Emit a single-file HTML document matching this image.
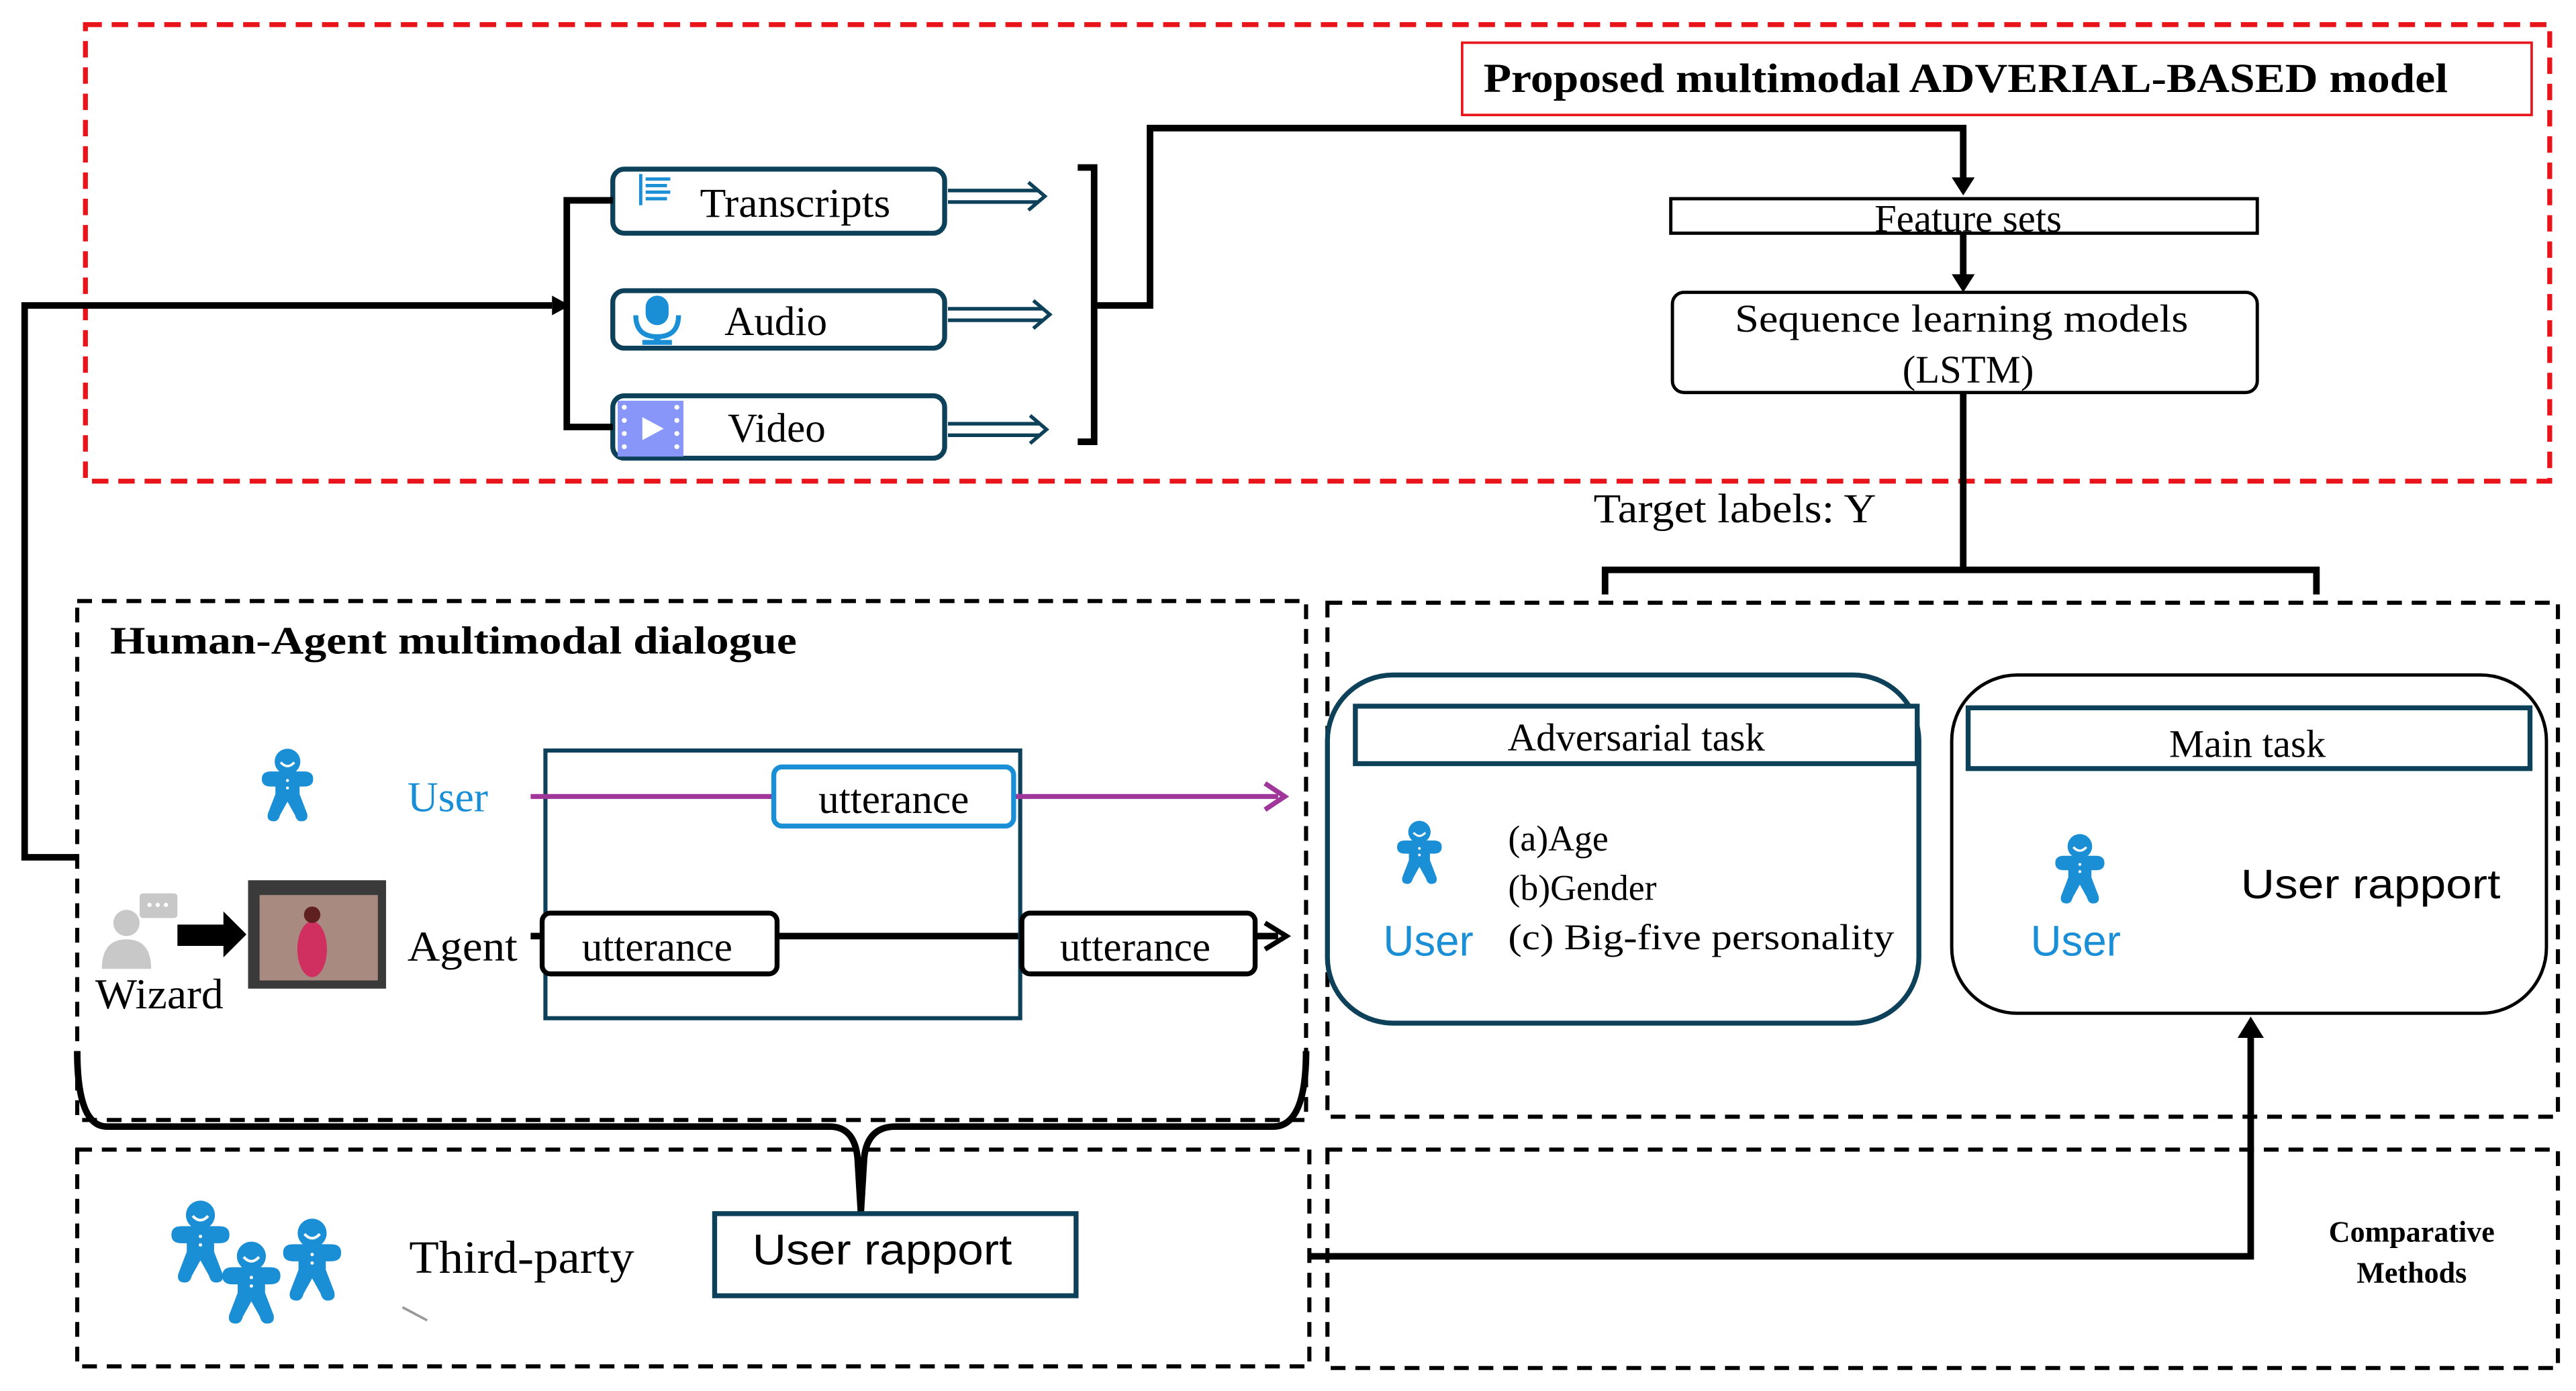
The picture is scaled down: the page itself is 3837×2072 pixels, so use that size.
<!DOCTYPE html>
<html><head><meta charset="utf-8"><style>
html,body{margin:0;padding:0;background:#fff}
svg{display:block}
text{font-family:"Liberation Serif",serif}
.s{font-family:"Liberation Sans","DejaVu Sans",sans-serif}
</style></head><body>
<svg width="3837" height="2072" viewBox="0 0 1568 847" preserveAspectRatio="none" xmlns="http://www.w3.org/2000/svg">
<defs>
<symbol id="p" viewBox="0 0 40 50">
<circle cx="20" cy="9.5" r="8.5" fill="#1a8fd6"/>
<path d="M3 21 Q3 16 9 16 L31 16 Q37 16 37 21 Q37 26 31 26 L28 26 L28 31 L33 44 Q34 49 29 49 Q26 49 25 45 L20 36 L15 45 Q14 49 11 49 Q6 49 7 44 L12 31 L12 26 L9 26 Q3 26 3 21Z" fill="#1a8fd6"/>
<path d="M15.5 10 Q20 15 24.5 10" stroke="#fff" stroke-width="1.6" fill="none"/>
<circle cx="20" cy="22" r="1" fill="#fff"/><circle cx="20" cy="27" r="1" fill="#fff"/>
</symbol>
</defs>
<rect x="52" y="15" width="1500" height="278" fill="none" stroke="#e8141a" stroke-width="3" stroke-dasharray="10,6"/>
<rect x="890" y="26" width="651" height="44" fill="none" stroke="#e8141a" stroke-width="1.5"/>
<text x="903" y="56" font-size="25" font-weight="bold" textLength="587" lengthAdjust="spacingAndGlyphs">Proposed multimodal ADVERIAL-BASED model</text>
<g fill="#fff" stroke="#0d4159" stroke-width="3">
<rect x="373" y="103" width="202" height="39" rx="7"/>
<rect x="373" y="177" width="202" height="35" rx="7"/>
<rect x="373" y="241" width="202" height="38" rx="7"/>
</g>
<g stroke="#1a8fd6" stroke-width="2"><line x1="390" y1="106" x2="390" y2="125"/><line x1="393" y1="109" x2="408" y2="109"/><line x1="393" y1="113" x2="406" y2="113"/><line x1="393" y1="117" x2="408" y2="117"/><line x1="393" y1="121" x2="406" y2="121"/></g>
<text x="426" y="132" font-size="25" textLength="116" lengthAdjust="spacingAndGlyphs">Transcripts</text>
<rect x="393" y="180" width="14" height="18" rx="7" fill="#1a8fd6"/>
<path d="M387 192 Q387 205 400 205 Q413 205 413 192" stroke="#1a8fd6" stroke-width="3" fill="none"/>
<rect x="398" y="204" width="4" height="5" fill="#1a8fd6"/><rect x="391" y="207" width="18" height="3" fill="#1a8fd6"/>
<text x="441" y="204" font-size="25">Audio</text>
<rect x="376" y="244" width="40" height="34" fill="#8796f8"/>
<path d="M391 254 L404 261 L391 268Z" fill="#fff"/>
<g fill="#fff"><circle cx="380" cy="248" r="1.5"/><circle cx="380" cy="256" r="1.5"/><circle cx="380" cy="264" r="1.5"/><circle cx="380" cy="272" r="1.5"/><circle cx="412" cy="248" r="1.5"/><circle cx="412" cy="256" r="1.5"/><circle cx="412" cy="264" r="1.5"/><circle cx="412" cy="272" r="1.5"/></g>
<text x="443" y="269" font-size="25">Video</text>
<g stroke="#0d4159" stroke-width="2.2" fill="none">
<path d="M577 116 L632 116 M577 123 L632 123 M626 111 L636 119.5 L626 128"/>
<path d="M577 188 L635 188 M577 195 L635 195 M629 183 L639 191.5 L629 200"/>
<path d="M577 258 L633 258 M577 265 L633 265 M627 253 L637 261.5 L627 270"/>
</g>
<g stroke="#000" stroke-width="4" fill="none">
<path d="M373 122 L345 122 L345 260 L373 260"/>
<path d="M47 522 L15 522 L15 186 L336 186"/>
<path d="M656 102 L666 102 L666 269 L656 269 M666 186 L700 186 L700 78 L1195 78 L1195 110"/>
<path d="M1195 142 L1195 170"/>
<path d="M1195 239 L1195 347 M977 362 L977 347 L1410 347 L1410 362"/>
<path d="M47 640 Q47 686 65 686 L505 686 Q520 686 522 705 L524 738 M524 738 L526 705 Q528 686 545 686 L775 686 Q795 686 795 640"/>
<path d="M797 765 L1370 765 L1370 630"/>
<path d="M323 570 L778 570"/>
</g>
<path d="M336 180 L347 186 L336 192Z"/>
<path d="M1188 108 L1195 119 L1202 108Z"/>
<path d="M1188 167 L1195 178 L1202 167Z"/>
<path d="M1362 632 L1370 619 L1378 632Z"/>
<path d="M770 562 L783 570 L770 578" stroke="#000" stroke-width="3" fill="none"/>
<rect x="1017" y="121" width="357" height="21" fill="#fff" stroke="#000" stroke-width="2"/>
<text x="1198" y="141" font-size="24" text-anchor="middle">Feature sets</text>
<rect x="1018" y="178" width="356" height="61" rx="7" fill="#fff" stroke="#000" stroke-width="2"/>
<text x="1056" y="202" font-size="24" textLength="276" lengthAdjust="spacingAndGlyphs">Sequence learning models</text>
<text x="1198" y="233" font-size="24" text-anchor="middle">(LSTM)</text>
<text x="970" y="318" font-size="25" textLength="172" lengthAdjust="spacingAndGlyphs">Target labels: Y</text>
<g fill="none" stroke="#000" stroke-width="2.5" stroke-dasharray="9,6">
<rect x="47" y="366" width="748" height="316"/>
<rect x="808" y="367" width="749" height="313"/>
<rect x="47" y="700" width="750" height="132"/>
<rect x="808" y="700" width="749" height="133"/>
</g>
<text x="67" y="398" font-size="24" font-weight="bold" textLength="418" lengthAdjust="spacingAndGlyphs">Human-Agent multimodal dialogue</text>
<use href="#p" x="155" y="455" width="40" height="46"/>
<text x="248" y="494" font-size="26" fill="#1a8fd6">User</text>
<rect x="332" y="457" width="289" height="163" fill="none" stroke="#0d4159" stroke-width="2.5"/>
<line x1="323" y1="485" x2="778" y2="485" stroke="#a0359a" stroke-width="3"/>
<path d="M770 477 L782 485 L770 493" stroke="#a0359a" stroke-width="3" fill="none"/>
<rect x="471" y="467" width="146" height="36" rx="5" fill="#fff" stroke="#1a8fd6" stroke-width="3"/>
<text x="544" y="495" font-size="25" text-anchor="middle">utterance</text>
<text x="248" y="585" font-size="26" textLength="67" lengthAdjust="spacingAndGlyphs">Agent</text>
<rect x="330" y="556" width="143" height="37" rx="5" fill="#fff" stroke="#000" stroke-width="3"/>
<text x="400" y="585" font-size="25" text-anchor="middle">utterance</text>
<rect x="622" y="556" width="142" height="37" rx="5" fill="#fff" stroke="#000" stroke-width="3"/>
<text x="691" y="585" font-size="25" text-anchor="middle">utterance</text>
<circle cx="77" cy="562" r="8" fill="#c8c8c8"/>
<path d="M62 590 Q62 572 77 572 Q92 572 92 590Z" fill="#c8c8c8"/>
<rect x="85" y="544" width="23" height="15" rx="2" fill="#c8c8c8"/>
<g fill="#fff"><circle cx="91" cy="551" r="1.3"/><circle cx="96" cy="551" r="1.3"/><circle cx="101" cy="551" r="1.3"/></g>
<path d="M108 563 L136 563 L136 555 L150 569 L136 583 L136 576 L108 576Z" fill="#000"/>
<rect x="151" y="536" width="84" height="66" fill="#3a3a3a"/>
<rect x="158" y="545" width="72" height="52" fill="#a88a80"/>
<ellipse cx="190" cy="578" rx="9" ry="17" fill="#d03060"/>
<circle cx="190" cy="557" r="5" fill="#602020"/>
<text x="58" y="614" font-size="26" textLength="78" lengthAdjust="spacingAndGlyphs">Wizard</text>
<rect x="808" y="411" width="360" height="212" rx="40" fill="#fff" stroke="#0d4159" stroke-width="3"/>
<rect x="825" y="430" width="342" height="35" fill="#fff" stroke="#0d4159" stroke-width="3"/>
<text x="996" y="457" font-size="24" text-anchor="middle">Adversarial task</text>
<use href="#p" x="846" y="499" width="36" height="40"/>
<text x="842" y="582" font-size="26" fill="#1a8fd6" class="s">User</text>
<text x="918" y="518" font-size="22">(a)Age</text>
<text x="918" y="548" font-size="22">(b)Gender</text>
<text x="918" y="578" font-size="22" textLength="235" lengthAdjust="spacingAndGlyphs">(c) Big-five personality</text>
<rect x="1188" y="411" width="362" height="206" rx="40" fill="#fff" stroke="#000" stroke-width="2"/>
<rect x="1198" y="431" width="342" height="37" fill="#fff" stroke="#0d4159" stroke-width="3"/>
<text x="1368" y="461" font-size="24" text-anchor="middle">Main task</text>
<use href="#p" x="1246" y="507" width="40" height="44"/>
<text x="1236" y="582" font-size="26" fill="#1a8fd6" class="s">User</text>
<text x="1364" y="547" font-size="25" class="s" textLength="158" lengthAdjust="spacingAndGlyphs">User rapport</text>
<use href="#p" x="100" y="730" width="44" height="52"/>
<use href="#p" x="131" y="755" width="44" height="52"/>
<use href="#p" x="168" y="741" width="44" height="52"/>
<text x="249" y="775" font-size="28" textLength="137" lengthAdjust="spacingAndGlyphs">Third-party</text>
<line x1="245" y1="796" x2="260" y2="804" stroke="#999" stroke-width="1.5"/>
<rect x="435" y="739" width="220" height="50" fill="#fff" stroke="#0d4159" stroke-width="3"/>
<text x="458" y="770" font-size="26" class="s" textLength="158" lengthAdjust="spacingAndGlyphs">User rapport</text>
<text x="1468" y="756" font-size="18" font-weight="bold" text-anchor="middle">Comparative</text>
<text x="1468" y="781" font-size="18" font-weight="bold" text-anchor="middle">Methods</text>
</svg>
</body></html>
